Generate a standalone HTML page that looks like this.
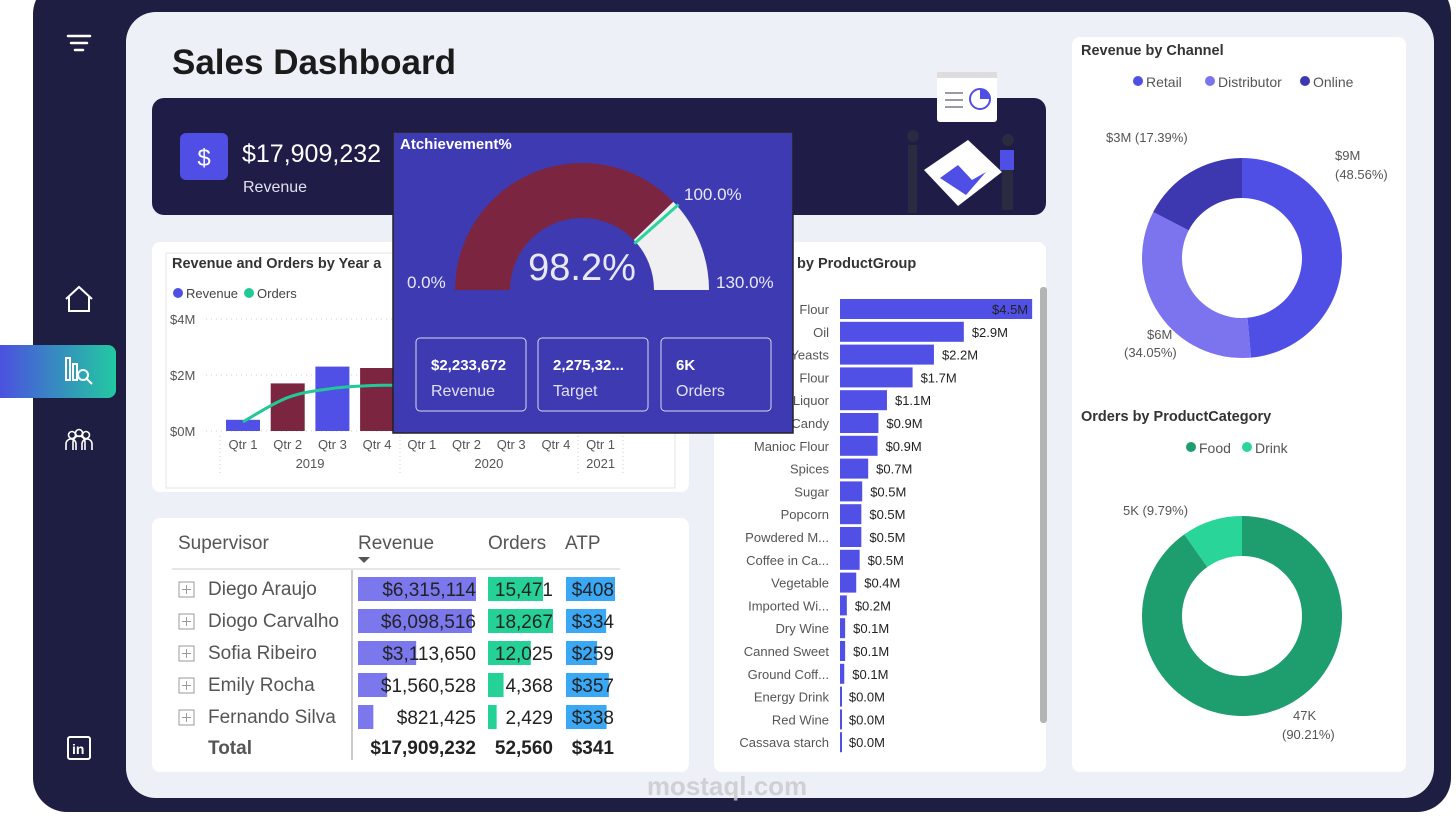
<!DOCTYPE html>
<html><head><meta charset="utf-8"><style>
html,body{margin:0;padding:0;background:#fff;width:1456px;height:818px;overflow:hidden}
svg{display:block;font-family:"Liberation Sans",sans-serif}
</style></head><body>
<svg id="root" width="1456" height="818" viewBox="0 0 1456 818" xmlns="http://www.w3.org/2000/svg">
<rect x="33" y="-20" width="1418" height="832" rx="34" fill="#1e1d42"/>
<rect x="126" y="12" width="1308" height="786" rx="30" fill="#eef0f8"/>
<g stroke="#fff" stroke-width="2.5" stroke-linecap="round"><line x1="68" y1="36" x2="90" y2="36"/><line x1="71" y1="43" x2="87" y2="43"/><line x1="75" y1="50" x2="83" y2="50"/></g>
<path d="M66 299 L79 287 L92 299 M69 297 V311 H89 V297" fill="none" stroke="#fff" stroke-width="2"/>
<defs><linearGradient id="ag" x1="0" x2="1"><stop offset="0" stop-color="#4f46e5"/><stop offset="1" stop-color="#22c9a0"/></linearGradient></defs>
<rect x="-10" y="345" width="126" height="53" rx="8" fill="url(#ag)"/>
<g stroke="#fff" stroke-width="2" fill="none"><rect x="66" y="358" width="4" height="22"/><rect x="73" y="364" width="4" height="16"/><circle cx="83" cy="375" r="5"/><line x1="87" y1="379" x2="92" y2="384"/></g>
<g stroke="#fff" stroke-width="1.6" fill="none"><circle cx="72" cy="435" r="3.5"/><circle cx="79" cy="433" r="3.5"/><circle cx="86" cy="435" r="3.5"/><path d="M66 450v-6a5 5 0 0 1 10 0v6M73 450v-8a6 6 0 0 1 12 0v8M82 450v-6a5 5 0 0 1 10 0v6"/></g>
<g><rect x="68" y="737" width="22" height="22" rx="2" fill="none" stroke="#fff" stroke-width="2"/><text x="72" y="754" fill="#fff" font-size="14" font-weight="bold">in</text></g>

<text x="172" y="74" font-size="35" font-weight="bold" fill="#1b1b1b">Sales Dashboard</text>

<rect x="152" y="98" width="894" height="117" rx="12" fill="#1f1d47"/>
<rect x="180" y="133" width="48" height="47" rx="6" fill="#4f4fe6"/>
<text x="204" y="166" text-anchor="middle" fill="#fff" font-size="24">$</text>
<text x="242" y="162" fill="#fff" font-size="25">$17,909,232</text>
<text x="243" y="192" fill="#e0e0ee" font-size="16">Revenue</text>
<g>
<rect x="937" y="72" width="60" height="50" rx="3" fill="#fff"/><rect x="937" y="72" width="60" height="6" fill="#ddd"/>
<circle cx="980" cy="99" r="10" fill="#fff" stroke="#4f4fe6" stroke-width="2"/><path d="M980 89 A10 10 0 0 1 990 99 L980 99Z" fill="#4f4fe6"/>
<rect x="945" y="92" width="18" height="2" fill="#99a"/><rect x="945" y="99" width="18" height="2" fill="#99a"/><rect x="945" y="106" width="18" height="2" fill="#99a"/>
<polygon points="924,170 968,140 1002,172 958,206" fill="#fff"/><polygon points="940,178 958,165 972,180 986,172 966,195" fill="#4f4fe6"/>
<rect x="908" y="145" width="9" height="68" fill="#2a2a40"/><circle cx="913" cy="136" r="6" fill="#2a2a40"/>
<rect x="1002" y="150" width="11" height="60" fill="#2a2a40"/><circle cx="1008" cy="140" r="6" fill="#2a2a40"/><rect x="1000" y="150" width="14" height="20" fill="#4f4fe6"/>
</g>

<rect x="152" y="242" width="537" height="250" rx="8" fill="#fff"/>
<rect x="166" y="253" width="509" height="235" fill="none" stroke="#e6e6ea"/>
<text x="172" y="268" font-size="14.5" font-weight="bold" fill="#333">Revenue and Orders by Year a</text>
<circle cx="178" cy="293" r="5" fill="#4f4fe6"/>
<text x="186" y="298" font-size="13" fill="#444">Revenue</text>
<circle cx="249" cy="293" r="5" fill="#22c996"/>
<text x="257" y="298" font-size="13" fill="#444">Orders</text>
<g id="combo"></g>

<rect x="152" y="518" width="537" height="254" rx="8" fill="#fff"/>
<g id="table" font-size="19" fill="#222"></g>

<rect x="714" y="242" width="332" height="530" rx="8" fill="#fff"/>
<text x="797" y="268" font-size="14.5" font-weight="bold" fill="#333">by ProductGroup</text>
<rect x="1040" y="287" width="7" height="436" rx="3" fill="#b4b4b4"/>
<g id="pg" font-size="13"></g>

<rect x="1072" y="37" width="334" height="735" rx="8" fill="#fff"/>
<text x="1081" y="55" font-size="14.5" font-weight="bold" fill="#333">Revenue by Channel</text>
<text x="1081" y="421" font-size="14.5" font-weight="bold" fill="#333">Orders by ProductCategory</text>
<g id="donuts" font-size="13" fill="#555"></g>

<rect x="393" y="132" width="400" height="301" fill="#3e3bb2" stroke="#222" stroke-width="1.5"/>
<text x="400" y="149" fill="#fff" font-size="15" font-weight="bold">Atchievement%</text>
<g id="gauge"></g>
<text x="582" y="280" text-anchor="middle" fill="#e8e8f5" font-size="38">98.2%</text>
<text x="407" y="288" fill="#e8e8f5" font-size="17">0.0%</text>
<text x="684" y="200" fill="#e8e8f5" font-size="17">100.0%</text>
<text x="716" y="288" fill="#e8e8f5" font-size="17">130.0%</text>
<g><rect x="416" y="338" width="110" height="73" rx="4" fill="none" stroke="#d8d8f0"/><text x="431" y="370" fill="#fff" font-size="15" font-weight="bold">$2,233,672</text><text x="431" y="396" fill="#e0e0f5" font-size="16">Revenue</text></g>
<g><rect x="538" y="338" width="110" height="73" rx="4" fill="none" stroke="#d8d8f0"/><text x="553" y="370" fill="#fff" font-size="15" font-weight="bold">2,275,32...</text><text x="553" y="396" fill="#e0e0f5" font-size="16">Target</text></g>
<g><rect x="661" y="338" width="110" height="73" rx="4" fill="none" stroke="#d8d8f0"/><text x="676" y="370" fill="#fff" font-size="15" font-weight="bold">6K</text><text x="676" y="396" fill="#e0e0f5" font-size="16">Orders</text></g>

<text x="727" y="795" text-anchor="middle" fill="#c8c8cc" font-size="26" font-weight="bold" opacity="0.8">mostaql.com</text>
</svg>
<script>
const NS="http://www.w3.org/2000/svg";
function mk(p,t,a,txt){const e=document.createElementNS(NS,t);for(const k in a)e.setAttribute(k,a[k]);if(txt!==undefined)e.textContent=txt;p.appendChild(e);return e;}

const quarters=["Qtr 1","Qtr 2","Qtr 3","Qtr 4","Qtr 1","Qtr 2","Qtr 3","Qtr 4","Qtr 1"];
const years=["2019","2020","2021"];
const revenueM=[0.4,1.7,2.3,2.25,2.2,2.3,2.4,2.2,0.6];
const ordersK=[1.2,4.4,5.6,6.0,6.0,6.1,6.0,5.8,1.8];
const yTicks=[0,2,4];
const yTickLabels=["$0M","$2M","$4M"];
const combo=document.getElementById('combo');
const yR=v=>431-v*28, yO=v=>431-v*7.6, xC=i=>243+i*44.7;
yTicks.forEach((t,i)=>{
 let l=mk(combo,'line',{x1:206,x2:670,y1:yR(t),y2:yR(t),stroke:'#ccc','stroke-dasharray':'1 4'});
 
 let tx=mk(combo,'text',{x:170,y:yR(t)+5,'font-size':13,fill:'#555'},yTickLabels[i]);
 
});
revenueM.forEach((v,i)=>{
 let r=mk(combo,'rect',{x:xC(i)-17,y:yR(v),width:34,height:431-yR(v),fill:i%2?'#7b2540':'#5050e6'});
 
 let t=mk(combo,'text',{x:xC(i),y:449,'text-anchor':'middle','font-size':13,fill:'#555'},quarters[i]);
 
});
[[0,4],[4,8],[8,9]].forEach((g,j)=>{
 let t=mk(combo,'text',{x:(xC(g[0])+xC(g[1]-1))/2,y:468,'text-anchor':'middle','font-size':13,fill:'#555'},years[j]);
 
});
[220,400,578,623].forEach(x=>{let l=mk(combo,'line',{x1:x,x2:x,y1:436,y2:476,stroke:'#ccc','stroke-dasharray':'1 3'});});
// smooth line via Catmull-Rom
const pts=ordersK.map((v,i)=>[xC(i),yO(v)]);
let d='M'+pts[0][0]+' '+pts[0][1];
for(let i=0;i<pts.length-1;i++){const p0=pts[Math.max(0,i-1)],p1=pts[i],p2=pts[i+1],p3=pts[Math.min(pts.length-1,i+2)];
 d+=` C${p1[0]+(p2[0]-p0[0])/6} ${p1[1]+(p2[1]-p0[1])/6} ${p2[0]-(p3[0]-p1[0])/6} ${p2[1]-(p3[1]-p1[1])/6} ${p2[0]} ${p2[1]}`;}
let ol=mk(combo,'path',{d:d,fill:'none',stroke:'#22c996','stroke-width':3});


const supervisors=["Diego Araujo","Diogo Carvalho","Sofia Ribeiro","Emily Rocha","Fernando Silva"];
const supRevenue=[6315114,6098516,3113650,1560528,821425];
const supOrders=[15471,18267,12025,4368,2429];
const supATP=[408,334,259,357,338];
const tb=document.getElementById('table');
[["Supervisor",178],["Revenue",358],["Orders",488],["ATP",565]].forEach(h=>{let t=mk(tb,'text',{x:h[1],y:549,fill:'#555'},h[0]);});
let so=mk(tb,'path',{d:'M358 557 L370 557 L364 563Z',fill:'#555'});
let hl=mk(tb,'line',{x1:172,x2:620,y1:569,y2:569,stroke:'#ccc'});
let vl=mk(tb,'line',{x1:352,x2:352,y1:570,y2:760,stroke:'#ccc','stroke-width':2});
const maxR=Math.max(...supRevenue),maxO=Math.max(...supOrders),maxA=Math.max(...supATP);
const fmt=n=>n.toLocaleString('en-US');
supervisors.forEach((s,i)=>{
 const y=577+i*32;
 let ex=mk(tb,'rect',{x:179,y:y+5,width:15,height:15,fill:'none',stroke:'#999'});
 mk(tb,'path',{d:`M182 ${y+12.5}h9M186.5 ${y+8}v9`,stroke:'#999'});
 let n=mk(tb,'text',{x:208,y:y+18,fill:'#555'},s);
 let b1=mk(tb,'rect',{x:358,y:y,width:118*supRevenue[i]/maxR,height:24,fill:'#7b78ee'});
 let b2=mk(tb,'rect',{x:488,y:y,width:65*supOrders[i]/maxO,height:24,fill:'#25d196'});
 let b3=mk(tb,'rect',{x:566,y:y,width:49*supATP[i]/maxA,height:24,fill:'#3aa8f5'});
 let t1=mk(tb,'text',{x:476,y:y+19,'text-anchor':'end'},'$'+fmt(supRevenue[i]));
 let t2=mk(tb,'text',{x:553,y:y+19,'text-anchor':'end'},fmt(supOrders[i]));
 let t3=mk(tb,'text',{x:614,y:y+19,'text-anchor':'end'},'$'+supATP[i]);
});
[["Total",208,"start"],["$17,909,232",476,"end"],["52,560",553,"end"],["$341",614,"end"]].forEach(c=>{let t=mk(tb,'text',{x:c[1],y:754,'text-anchor':c[2],'font-weight':'bold',fill:c[0]=="Total"?'#555':'#222'},c[0]);});

const groups=["Flour","Oil","Yeasts","Flour","Liquor","Candy","Manioc Flour","Spices","Sugar","Popcorn","Powdered M...","Coffee in Ca...","Vegetable","Imported Wi...","Dry Wine","Canned Sweet","Ground Coff...","Energy Drink","Red Wine","Cassava starch"];
const groupRev=[4.5,2.9,2.2,1.7,1.1,0.9,0.88,0.66,0.52,0.5,0.5,0.46,0.38,0.16,0.12,0.12,0.1,0.02,0.02,0.02];
const groupLbl=["$4.5M","$2.9M","$2.2M","$1.7M","$1.1M","$0.9M","$0.9M","$0.7M","$0.5M","$0.5M","$0.5M","$0.5M","$0.4M","$0.2M","$0.1M","$0.1M","$0.1M","$0.0M","$0.0M","$0.0M"];
const pg=document.getElementById('pg');
const px=v=>840+v*42.7;
groups.forEach((g,i)=>{
 const yc=309+i*22.8;
 let l=mk(pg,'text',{x:829,y:yc+5,'text-anchor':'end',fill:'#555'},g);
 let b=mk(pg,'rect',{x:840,y:yc-10,width:Math.max(2,px(groupRev[i])-840),height:20,fill:'#5050e6'});
 const inside=i==0;
 let v=mk(pg,'text',{x:inside?px(groupRev[i])-4:px(groupRev[i])+8,y:yc+5,'text-anchor':inside?'end':'start',fill:'#222'},groupLbl[i]);
});

const channels=["Retail","Distributor","Online"];
const channelPct=[48.56,34.05,17.39];
const channelLbl=["$9M","$6M","$3M"];
const channelColors=["#4f4fe6","#7b74ee","#3d38b0"];
const cats=["Food","Drink"];
const catPct=[90.21,9.79];
const catLbl=["47K","5K"];
const catColors=["#1e9e6e","#2ad59a"];
const dn=document.getElementById('donuts');
function donut(cx,cy,pcts,colors,name){
 let a=-Math.PI/2;
 pcts.forEach((p,i)=>{
  const a2=a+p/100*2*Math.PI,R=100,r=60,lg=(a2-a)>Math.PI?1:0;
  const P=(rr,ang)=>`${cx+rr*Math.cos(ang)} ${cy+rr*Math.sin(ang)}`;
  let s=mk(dn,'path',{d:`M${P(R,a)} A${R} ${R} 0 ${lg} 1 ${P(R,a2)} L${P(r,a2)} A${r} ${r} 0 ${lg} 0 ${P(r,a)}Z`,fill:colors[i]});
  
  a=a2;
 });
}
donut(1242,258,channelPct,channelColors,'channel-slice');
donut(1242,616,catPct,catColors,'category-slice');
let lx=1132;
channels.forEach((c,i)=>{let d=mk(dn,'circle',{cx:lx+6,cy:81,r:5,fill:channelColors[i]});
 let t=mk(dn,'text',{x:lx+14,y:87,'font-size':14},c);lx+=[72,95,70][i];});
lx=1185;
cats.forEach((c,i)=>{let d=mk(dn,'circle',{cx:lx+6,cy:447,r:5,fill:catColors[i]});
 let t=mk(dn,'text',{x:lx+14,y:453,'font-size':14},c);lx+=56;});
[[1335,160,channelLbl[0]],[1335,179,'('+channelPct[0]+'%)'],[1147,339,channelLbl[1]],[1124,357,'('+channelPct[1].toFixed(2)+'%)'],[1106,142,channelLbl[2]+' ('+channelPct[2]+'%)'],
 [1293,720,catLbl[0]],[1282,739,'('+catPct[0]+'%)'],[1123,515,catLbl[1]+' ('+catPct[1]+'%)']].forEach(l=>{let t=mk(dn,'text',{x:l[0],y:l[1]},l[2]);});

const gaugeValue=98.2, gaugeTarget=100, gaugeMax=130;
const gg=document.getElementById('gauge');
const gcx=582,gcy=290,GR=127,gr=72;
const ang=v=>Math.PI+v/gaugeMax*Math.PI;
function arc(v0,v1,col,name){const a0=ang(v0),a1=ang(v1);const P=(rr,a)=>`${gcx+rr*Math.cos(a)} ${gcy+rr*Math.sin(a)}`;
 let p=mk(gg,'path',{d:`M${P(GR,a0)} A${GR} ${GR} 0 0 1 ${P(GR,a1)} L${P(gr,a1)} A${gr} ${gr} 0 0 0 ${P(gr,a0)}Z`,fill:col});}
arc(0,gaugeValue,'#7b2540','gauge-fill');
arc(gaugeValue,gaugeMax,'#f0f0f2','gauge-remainder');
const ta=ang(gaugeTarget);
let tl=mk(gg,'line',{x1:gcx+(gr-2)*Math.cos(ta),y1:gcy+(gr-2)*Math.sin(ta),x2:gcx+(GR+2)*Math.cos(ta),y2:gcy+(GR+2)*Math.sin(ta),stroke:'#2ad59a','stroke-width':3});

</script>
</body></html>
